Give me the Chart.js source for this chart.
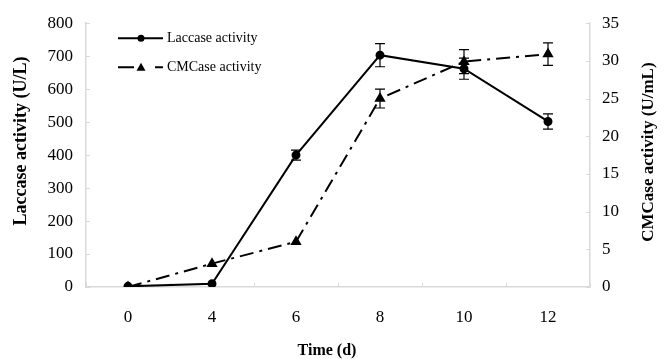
<!DOCTYPE html>
<html lang="en">
<head>
    <meta charset="UTF-8">
    <title>Laccase and CMCase activity</title>
    <script src="https://cdn.jsdelivr.net/npm/chart.js"></script>
    <style>
        html, body { margin: 0; padding: 0; background: #fff; }
        .chart-container { position: relative; width: 668px; height: 359px; }
    </style>
</head>
<body>
    <div class="chart-container">
        <canvas id="activityChart" width="668" height="359"></canvas>
    </div>

    <script>
        // data
        const days = ['0', '4', '6', '8', '10', '12'];
        const laccase = [2, 10, 400, 703, 662, 502];
        const laccaseErr = [0, 0, 15, 35, 32, 23];
        const cmcase = [0, 3.1, 6.0, 25.0, 29.9, 30.9];
        const cmcaseErr = [0, 0, 0, 1.25, 1.6, 1.5];

        const serif = "'Liberation Serif', 'Times New Roman', serif";
        const axisGray = '#d9d9d9';

        // error bars, drawn through the scales
        const errorBars = {
            id: 'errorBars',
            afterDatasetsDraw(chart) {
                const ctx = chart.ctx;
                ctx.save();
                ctx.strokeStyle = '#000';
                ctx.lineWidth = 1.2;
                chart.data.datasets.forEach((ds, di) => {
                    const meta = chart.getDatasetMeta(di);
                    const scale = chart.scales[ds.yAxisID];
                    ds.errors.forEach((e, i) => {
                        if (!e) return;
                        const x = meta.data[i].x;
                        const top = scale.getPixelForValue(ds.data[i] + e);
                        const bot = scale.getPixelForValue(ds.data[i] - e);
                        ctx.beginPath();
                        ctx.moveTo(x, top); ctx.lineTo(x, bot);
                        ctx.moveTo(x - 5, top); ctx.lineTo(x + 5, top);
                        ctx.moveTo(x - 5, bot); ctx.lineTo(x + 5, bot);
                        ctx.stroke();
                    });
                });
                ctx.restore();
            }
        };

        // small inside tick marks like the original
        const insideTicks = {
            id: 'insideTicks',
            beforeDatasetsDraw(chart) {
                const ctx = chart.ctx;
                const a = chart.chartArea;
                ctx.save();
                ctx.strokeStyle = axisGray;
                ctx.lineWidth = 1;
                ctx.beginPath();
                chart.scales.y.ticks.forEach((t, i) => {
                    const y = Math.round(chart.scales.y.getPixelForTick(i)) + 0.5;
                    ctx.moveTo(a.left, y); ctx.lineTo(a.left + 4, y);
                });
                chart.scales.y1.ticks.forEach((t, i) => {
                    const y = Math.round(chart.scales.y1.getPixelForTick(i)) + 0.5;
                    ctx.moveTo(a.right, y); ctx.lineTo(a.right - 4, y);
                });
                const step = (a.right - a.left) / days.length;
                for (let i = 0; i <= days.length; i++) {
                    const x = Math.round(a.left + i * step) + 0.5;
                    ctx.moveTo(x, a.bottom); ctx.lineTo(x, a.bottom - 4);
                }
                ctx.stroke();
                ctx.restore();
            }
        };

        // axis titles; both vertical ones read bottom to top as in the original
        const axisTitles = {
            id: 'axisTitles',
            afterDraw(chart) {
                const ctx = chart.ctx;
                const a = chart.chartArea;
                ctx.save();
                ctx.fillStyle = '#000';
                ctx.textAlign = 'center';
                ctx.textBaseline = 'middle';
                ctx.font = 'bold 16px ' + serif;
                ctx.fillText('Time (d)', (a.left + a.right) / 2 - 11, chart.height - 8);
                ctx.save();
                ctx.translate(21.5, (a.top + a.bottom) / 2 - 14);
                ctx.rotate(-Math.PI / 2);
                ctx.font = 'bold 18px ' + serif;
                ctx.fillText('Laccase activity (U/L)', 0, 0);
                ctx.restore();
                ctx.translate(chart.width - 19, (a.top + a.bottom) / 2 - 3);
                ctx.rotate(-Math.PI / 2);
                ctx.font = 'bold 17px ' + serif;
                ctx.fillText('CMCase activity (U/mL)', 0, 0);
                ctx.restore();
            }
        };

        // legend inside the plot, top left
        const innerLegend = {
            id: 'innerLegend',
            afterDraw(chart) {
                const ctx = chart.ctx;
                const a = chart.chartArea;
                const x0 = a.left + 32, x1 = a.left + 77, xm = a.left + 55;
                const rows = [a.top + 15, a.top + 44];
                ctx.save();
                ctx.setLineDash([]);
                ctx.strokeStyle = '#000';
                ctx.fillStyle = '#000';
                ctx.lineWidth = 2;
                // laccase
                ctx.beginPath();
                ctx.moveTo(x0, rows[0]); ctx.lineTo(x1, rows[0]);
                ctx.stroke();
                ctx.beginPath();
                ctx.arc(xm, rows[0], 3.5, 0, Math.PI * 2);
                ctx.fill();
                // cmcase
                ctx.beginPath();
                ctx.moveTo(x0, rows[1]); ctx.lineTo(x0 + 16, rows[1]);
                ctx.moveTo(x1 - 8, rows[1]); ctx.lineTo(x1, rows[1]);
                ctx.stroke();
                ctx.beginPath();
                ctx.moveTo(xm, rows[1] - 4.5);
                ctx.lineTo(xm + 4.5, rows[1] + 3.5);
                ctx.lineTo(xm - 4.5, rows[1] + 3.5);
                ctx.closePath();
                ctx.fill();
                ctx.font = '14px ' + serif;
                ctx.textBaseline = 'middle';
                ctx.fillText('Laccase activity', x1 + 4, rows[0]);
                ctx.fillText('CMCase activity', x1 + 4, rows[1]);
                ctx.restore();
            }
        };

        const ctx = document.getElementById('activityChart').getContext('2d');
        const activityChart = new Chart(ctx, {
            type: 'line',
            data: {
                labels: days,
                datasets: [{
                    label: 'Laccase activity',
                    data: laccase,
                    errors: laccaseErr,
                    yAxisID: 'y',
                    borderColor: '#000',
                    backgroundColor: '#000',
                    borderWidth: 2,
                    pointStyle: 'circle',
                    pointRadius: 3.5,
                    tension: 0
                }, {
                    label: 'CMCase activity',
                    data: cmcase,
                    errors: cmcaseErr,
                    yAxisID: 'y1',
                    borderColor: '#000',
                    backgroundColor: '#000',
                    borderWidth: 2,
                    borderDash: [14, 6, 3, 6],
                    pointStyle: 'triangle',
                    pointRadius: 4.5,
                    tension: 0
                }]
            },
            options: {
                responsive: false,
                animation: false,
                layout: { padding: { top: 20, left: 0, right: 0, bottom: 0 } },
                plugins: {
                    legend: { display: false },
                    tooltip: { enabled: false }
                },
                scales: {
                    x: {
                        offset: true,
                        grid: { display: false, drawTicks: false },
                        border: { color: axisGray, width: 1.5 },
                        ticks: { color: '#000', padding: 20, font: { family: serif, size: 17 } },
                        afterFit(scale) { scale.height = 72; }
                    },
                    y: {
                        position: 'left',
                        min: 0,
                        max: 800,
                        ticks: { stepSize: 100, color: '#000', padding: 13, font: { family: serif, size: 17 } },
                        grid: { display: false, drawTicks: false },
                        border: { color: axisGray, width: 1.5 },
                        afterFit(scale) { scale.width = 86; }
                    },
                    y1: {
                        position: 'right',
                        min: 0,
                        max: 35,
                        ticks: { stepSize: 5, color: '#000', padding: 12, font: { family: serif, size: 17 } },
                        grid: { display: false, drawTicks: false },
                        border: { color: axisGray, width: 1.5 },
                        afterFit(scale) { scale.width = 78; }
                    }
                }
            },
            plugins: [insideTicks, errorBars, innerLegend, axisTitles]
        });
    </script>
</body>
</html>
